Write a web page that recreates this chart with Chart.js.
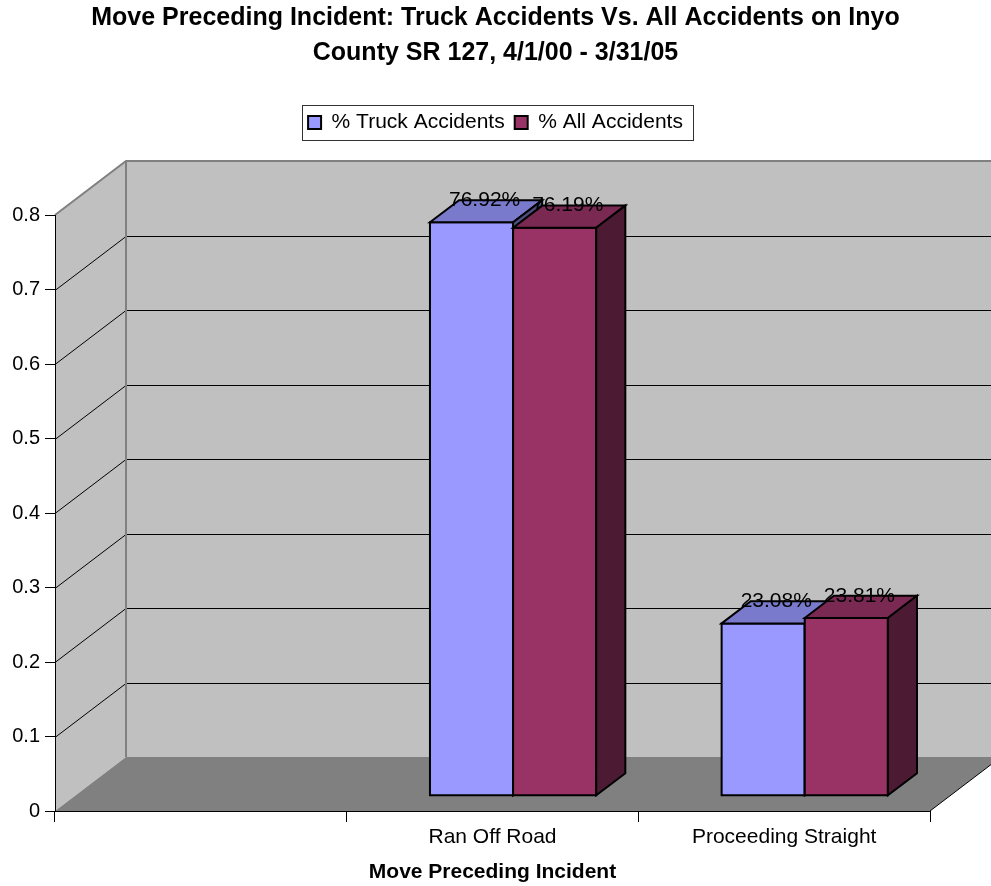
<!DOCTYPE html>
<html>
<head>
<meta charset="utf-8">
<script src="https://cdn.jsdelivr.net/npm/chart.js@4.4.1/dist/chart.umd.min.js"></script>
<style>
  html, body { margin: 0; padding: 0; background: #fff; }
  #wrap { width: 991px; height: 886px; }
</style>
</head>
<body>
<div id="wrap"><canvas id="chart"></canvas></div>
<script>
const categories = ['', 'Ran Off Road', 'Proceeding Straight'];
const truckPct = [null, 0.7692, 0.2308];
const allPct = [null, 0.7619, 0.2381];
const yTicks = [0, 0.1, 0.2, 0.3, 0.4, 0.5, 0.6, 0.7, 0.8];

const FONT = "'Liberation Sans', Arial, sans-serif";
const DEPTH_X = 71;
const DEPTH_Y = 54;

function shade(hex, f) {
  const h = hex.replace('#', '');
  const r = Math.round(parseInt(h.slice(0, 2), 16) * f);
  const g = Math.round(parseInt(h.slice(2, 4), 16) * f);
  const b = Math.round(parseInt(h.slice(4, 6), 16) * f);
  return `rgb(${r}, ${g}, ${b})`;
}

function poly(ctx, pts) {
  ctx.beginPath();
  pts.forEach(([x, y], i) => (i ? ctx.lineTo(x, y) : ctx.moveTo(x, y)));
  ctx.closePath();
}

// back wall, side wall, floor and their grid lines
const walls = {
  id: 'walls',
  beforeDraw(chart) {
    const { ctx, chartArea: a, scales: { y } } = chart;
    const dx = DEPTH_X, dy = DEPTH_Y;
    const y0 = y.getPixelForValue(yTicks[0]);
    const yTop = y.getPixelForValue(yTicks[yTicks.length - 1]);
    ctx.save();
    ctx.fillStyle = '#c0c0c0';
    ctx.fillRect(a.left + dx, yTop - dy, a.right - a.left, y0 - yTop);
    poly(ctx, [[a.left, yTop], [a.left + dx, yTop - dy], [a.left + dx, y0 - dy], [a.left, y0]]);
    ctx.fill();
    ctx.fillStyle = '#808080';
    poly(ctx, [[a.left, y0], [a.left + dx, y0 - dy], [a.right + dx, y0 - dy], [a.right, y0]]);
    ctx.fill();

    ctx.strokeStyle = '#000';
    ctx.lineWidth = 1;
    ctx.beginPath();
    yTicks.slice(1, -1).forEach(v => {
      const py = Math.round(y.getPixelForValue(v)) + 0.5;
      ctx.moveTo(a.left, py);
      ctx.lineTo(a.left + dx, py - dy);
      ctx.lineTo(a.right + dx, py - dy);
    });
    ctx.moveTo(a.right, y0);
    ctx.lineTo(a.right + dx, y0 - dy);
    ctx.stroke();

    ctx.strokeStyle = '#808080';
    ctx.lineWidth = 2;
    ctx.beginPath();
    ctx.moveTo(a.left, yTop);
    ctx.lineTo(a.left + dx, yTop - dy);
    ctx.lineTo(a.right + dx, yTop - dy);
    ctx.moveTo(a.left + dx, yTop - dy);
    ctx.lineTo(a.left + dx, y0 - dy);
    ctx.stroke();
    ctx.restore();
  },
  afterDraw(chart) {
    // frame round the legend
    const boxes = chart.legend.legendHitBoxes;
    if (!boxes || !boxes.length) return;
    const { ctx } = chart;
    const left = Math.min(...boxes.map(b => b.left)) - 6;
    const right = Math.max(...boxes.map(b => b.left + b.width)) + 10;
    const top = boxes[0].top - 7;
    const bottom = boxes[0].top + boxes[0].height + 7;
    ctx.save();
    ctx.strokeStyle = '#333';
    ctx.lineWidth = 1;
    ctx.strokeRect(Math.round(left) + 0.5, Math.round(top) + 0.5, Math.round(right - left), Math.round(bottom - top));
    ctx.restore();
  }
};

// 3D boxes drawn from the bar elements, plus value labels
const bars3d = {
  id: 'bars3d',
  beforeDatasetsDraw(chart) {
    const { ctx } = chart;
    const ox = DEPTH_X * 0.29, oy = DEPTH_Y * 0.29;
    const bx = DEPTH_X * 0.41, by = DEPTH_Y * 0.41;
    const sets = chart.data.datasets;
    const labels = [];
    ctx.save();
    ctx.lineWidth = 2;
    ctx.strokeStyle = '#000';
    ctx.lineJoin = 'miter';
    categories.forEach((c, i) => {
      sets.forEach((ds, j) => {
        const v = ds.data[i];
        if (v == null) return;
        const el = chart.getDatasetMeta(j).data[i];
        const { x, y, base, width } = el.getProps(['x', 'y', 'base', 'width'], true);
        const l = x - width / 2 + ox, r = x + width / 2 + ox;
        const t = y - oy, b = base - oy;
        const col = ds.backgroundColor;
        poly(ctx, [[l, t], [r, t], [r, b], [l, b]]);
        ctx.fillStyle = col; ctx.fill(); ctx.stroke();
        poly(ctx, [[l, t], [l + bx, t - by], [r + bx, t - by], [r, t]]);
        ctx.fillStyle = shade(col, 0.8); ctx.fill(); ctx.stroke();
        poly(ctx, [[r, t], [r + bx, t - by], [r + bx, b - by], [r, b]]);
        ctx.fillStyle = shade(col, 0.5); ctx.fill(); ctx.stroke();
        labels.push({ text: (v * 100).toFixed(2) + '%', x: x + ox + bx * 0.45, y: t - by });
      });
    });
    ctx.fillStyle = '#000';
    ctx.font = `21px ${FONT}`;
    ctx.textAlign = 'center';
    ctx.textBaseline = 'middle';
    labels.forEach(lb => ctx.fillText(lb.text, lb.x, lb.y));
    ctx.restore();
    return false;
  }
};

new Chart(document.getElementById('chart'), {
  type: 'bar',
  data: {
    labels: categories,
    datasets: [
      {
        label: '% Truck Accidents',
        data: truckPct,
        backgroundColor: '#9999ff',
        borderColor: '#000',
        borderWidth: 2,
        categoryPercentage: 0.57,
        barPercentage: 1,
      },
      {
        label: '% All Accidents',
        data: allPct,
        backgroundColor: '#993366',
        borderColor: '#000',
        borderWidth: 2,
        categoryPercentage: 0.57,
        barPercentage: 1,
      },
    ],
  },
  options: {
    responsive: true,
    maintainAspectRatio: false,
    animation: false,
    layout: { padding: 0 },
    plugins: {
      title: {
        display: true,
        text: [
          'Move Preceding Incident: Truck Accidents Vs. All Accidents on Inyo',
          'County SR 127, 4/1/00 - 3/31/05',
        ],
        color: '#000',
        font: { family: FONT, size: 25, weight: 'bold', lineHeight: 1.4 },
        padding: { top: 1, bottom: 31 },
      },
      legend: {
        position: 'top',
        labels: {
          color: '#000',
          font: { family: FONT, size: 21 },
          boxWidth: 13,
          boxHeight: 13,
          padding: 10,
        },
      },
      tooltip: { enabled: false },
    },
    scales: {
      x: {
        offset: true,
        grid: { display: true, offset: true, drawOnChartArea: false, drawTicks: true, tickLength: 11, color: '#000' },
        border: { display: true, color: '#000', width: 1 },
        ticks: { color: '#000', font: { family: FONT, size: 21 }, padding: 3, maxRotation: 0, autoSkip: false },
        title: {
          display: true,
          text: 'Move Preceding Incident',
          color: '#000',
          font: { family: FONT, size: 21, weight: 'bold' },
          padding: { top: 0, bottom: 1 },
        },
        afterFit(s) { s.height = 75; },
      },
      // empty scales used as spacers, leaving room for the 3D depth
      x2: {
        type: 'category',
        position: 'top',
        grid: { display: false },
        border: { display: false },
        ticks: { display: false },
        afterFit(s) { s.height = 72; },
      },
      y2: {
        type: 'linear',
        position: 'right',
        grid: { display: false },
        border: { display: false },
        ticks: { display: false },
        afterFit(s) { s.width = 61; },
      },
      y: {
        min: yTicks[0],
        max: yTicks[yTicks.length - 1],
        ticks: {
          stepSize: 0.1,
          color: '#000',
          font: { family: FONT, size: 20 },
          padding: 5,
          callback: v => (v === 0 ? '0' : v.toFixed(1)),
        },
        grid: { drawOnChartArea: false, drawTicks: true, tickLength: 10, color: '#000' },
        border: { display: true, color: '#000', width: 1 },
        afterFit(s) { s.width = 55; },
      },
    },
  },
  plugins: [walls, bars3d],
});
</script>
</body>
</html>
